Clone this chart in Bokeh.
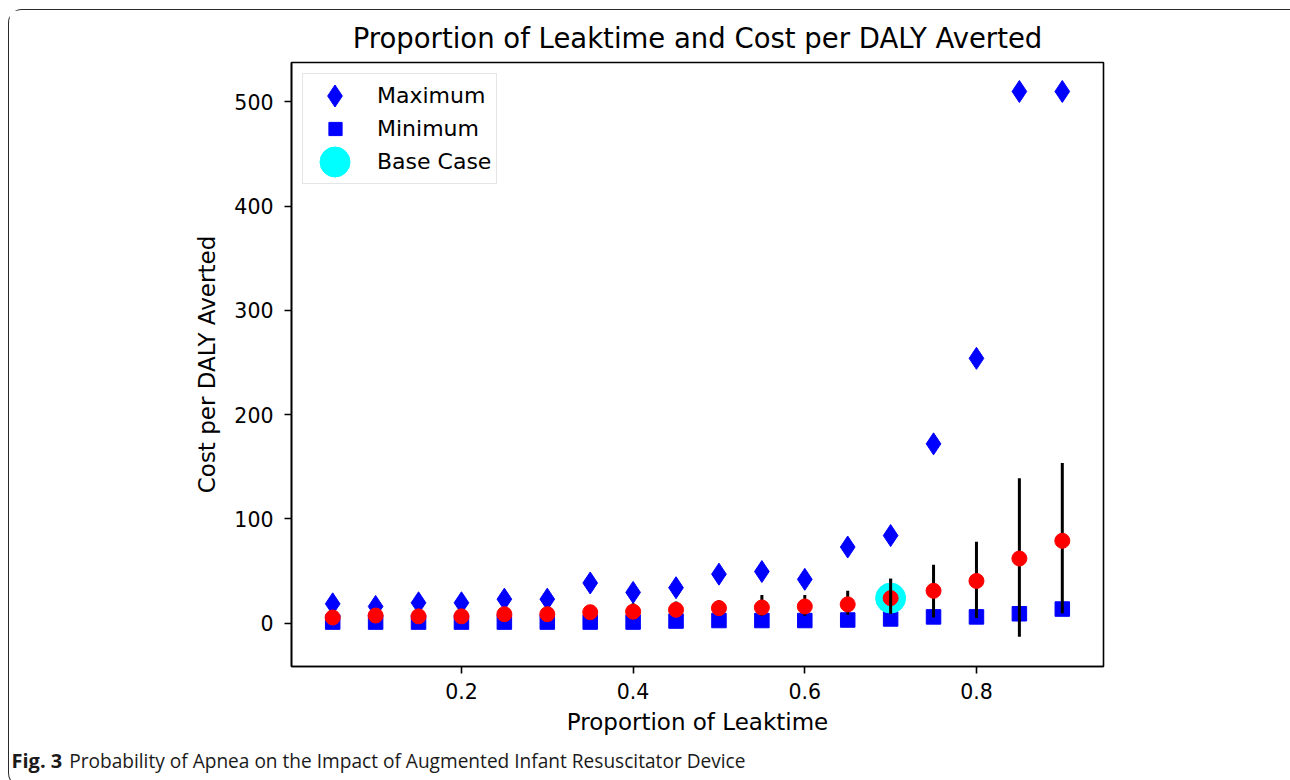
from bokeh.plotting import figure
from bokeh.layouts import column
from bokeh.models import Range1d, FixedTicker, Legend, LegendItem, Div
from bokeh.embed import file_html
from bokeh.resources import INLINE

# ---- data ----
leaktime = [0.05, 0.10, 0.15, 0.20, 0.25, 0.30, 0.35, 0.40, 0.45,
            0.50, 0.55, 0.60, 0.65, 0.70, 0.75, 0.80, 0.85, 0.90]
maximum = [18.5, 16, 19.5, 19.5, 23, 23, 38.5, 29.5, 34,
           47, 49.5, 42, 73, 84, 172, 254, 510, 510]
minimum = [1, 1, 1, 1, 1, 1, 1, 1, 2,
           2.5, 2.5, 2.5, 3, 4, 6, 6, 9, 13.5]
mean_cost = [5.4, 7.3, 6.5, 6.5, 8.6, 8.6, 10.5, 11, 12.8,
             14.4, 15, 16, 18, 24, 31, 40.5, 62, 79]
err_low = [2, 3, 3, 3, 4, 4, 5, 5, 6,
           7, 7, 7, 8, 9, 5.5, 5, -13, 9.6]
err_high = [9, 11, 10, 10, 12, 12, 15, 19, 20.7,
            22, 27, 27, 31, 42.5, 56, 78, 139, 153.5]
base_x = [0.70]
base_y = [24]
base_low = [9]
base_high = [42.5]
x_ticks = [0.2, 0.4, 0.6, 0.8]
y_ticks = [0, 100, 200, 300, 400, 500]
caption_bold = "Fig. 3"
caption_text = "Probability of Apnea on the Impact of Augmented Infant Resuscitator Device"

TXT = "DejaVu Sans"

p = figure(width=1280, height=740, output_backend="svg", toolbar_location=None,
           x_range=Range1d(0.002, 0.948), y_range=Range1d(-41.6, 537.8),
           min_border_left=282, min_border_right=186,
           min_border_top=52, min_border_bottom=84,
           title="Proportion of Leaktime and Cost per DALY Averted")

p.background_fill_color = "white"
p.border_fill_color = "white"
p.outline_line_color = "black"
p.outline_line_width = 1.6
p.xgrid.visible = False
p.ygrid.visible = False

p.title.text_font = TXT
p.title.text_font_size = "27.5px"
p.title.text_font_style = "normal"
p.title.text_color = "black"
p.title.align = "center"
p.title.standoff = 17

for ax in (p.xaxis[0], p.yaxis[0]):
    ax.major_tick_out = 7
    ax.major_tick_in = 0
    ax.minor_tick_out = 0
    ax.minor_tick_in = 0
    ax.major_tick_line_width = 1.6
    ax.axis_line_width = 1.6
    ax.major_label_text_font = TXT
    ax.major_label_text_font_size = "20.5px"
    ax.major_label_text_color = "black"
    ax.axis_label_text_font = TXT
    ax.axis_label_text_font_size = "23px"
    ax.axis_label_text_font_style = "normal"
    ax.axis_label_text_color = "black"

p.xaxis.ticker = FixedTicker(ticks=x_ticks)
p.yaxis.ticker = FixedTicker(ticks=y_ticks)
p.xaxis.axis_label = "Proportion of Leaktime"
p.yaxis.axis_label = "Cost per DALY Averted"
p.xaxis.major_label_standoff = 9
p.yaxis.major_label_standoff = 11
p.xaxis.axis_label_standoff = 7
p.yaxis.axis_label_standoff = 11

r_min = p.scatter(leaktime, minimum, marker="square", size=14.5, color="#0000ff")
r_max = p.scatter(leaktime, maximum, marker="diamond", size=22, color="#0000ff")
p.segment(x0=leaktime, y0=err_low, x1=leaktime, y1=err_high,
          line_color="black", line_width=3)
r_base = p.scatter(base_x, base_y, marker="circle", size=30, color="#00ffff")
p.scatter(leaktime, mean_cost, marker="circle", size=15, color="#ff0000")
p.segment(x0=base_x, y0=base_low, x1=base_x, y1=base_high,
          line_color="black", line_width=3)

legend = Legend(items=[LegendItem(label="Maximum", renderers=[r_max]),
                       LegendItem(label="Minimum", renderers=[r_min]),
                       LegendItem(label="Base Case", renderers=[r_base])],
                location="top_left", margin=11, padding=5, spacing=0,
                glyph_height=33, glyph_width=54, label_standoff=15,
                label_text_font=TXT, label_text_font_size="22px",
                label_text_color="black",
                border_line_color="#cccccc", border_line_width=1.5,
                background_fill_color="white", background_fill_alpha=0.8)
p.add_layout(legend)

# larger legend markers drawn over the small default ones
big_max = Legend(items=[LegendItem(label="", renderers=[r_max])],
                 location=(16, 543), margin=0, padding=0, spacing=0,
                 glyph_height=55, glyph_width=55, label_standoff=0,
                 border_line_color=None, background_fill_alpha=0)
big_base = Legend(items=[LegendItem(label="", renderers=[r_base])],
                  location=(6, 467), margin=0, padding=0, spacing=0,
                  glyph_height=75, glyph_width=75, label_standoff=0,
                  border_line_color=None, background_fill_alpha=0)
p.add_layout(big_max)
p.add_layout(big_base)

# caption line
cap = Div(text=f'<span style="position:relative;left:-5px;top:-4px">'
               f'<span style="font-weight:700;font-size:20px">{caption_bold}</span>'
               f'<span style="margin-left:7px">{caption_text}</span></span>',
          width=1280, height=26,
          styles={"font-family": "'Open Sans', sans-serif", "font-size": "19.1px",
                  "line-height": "20px", "color": "#1a1a1a",
                  "padding-left": "2.5px", "white-space": "nowrap"})

page = column(p, cap, spacing=0,
              styles={"margin-left": "8px", "margin-top": "9px",
                      "border-left": "1.5px solid #2a2a2a",
                      "border-top": "1.5px solid #2a2a2a",
                      "border-bottom": "1.5px solid #2a2a2a",
                      "border-top-left-radius": "14px",
                      "border-bottom-left-radius": "14px"})

open("out.html", "w").write(file_html(page, INLINE))
